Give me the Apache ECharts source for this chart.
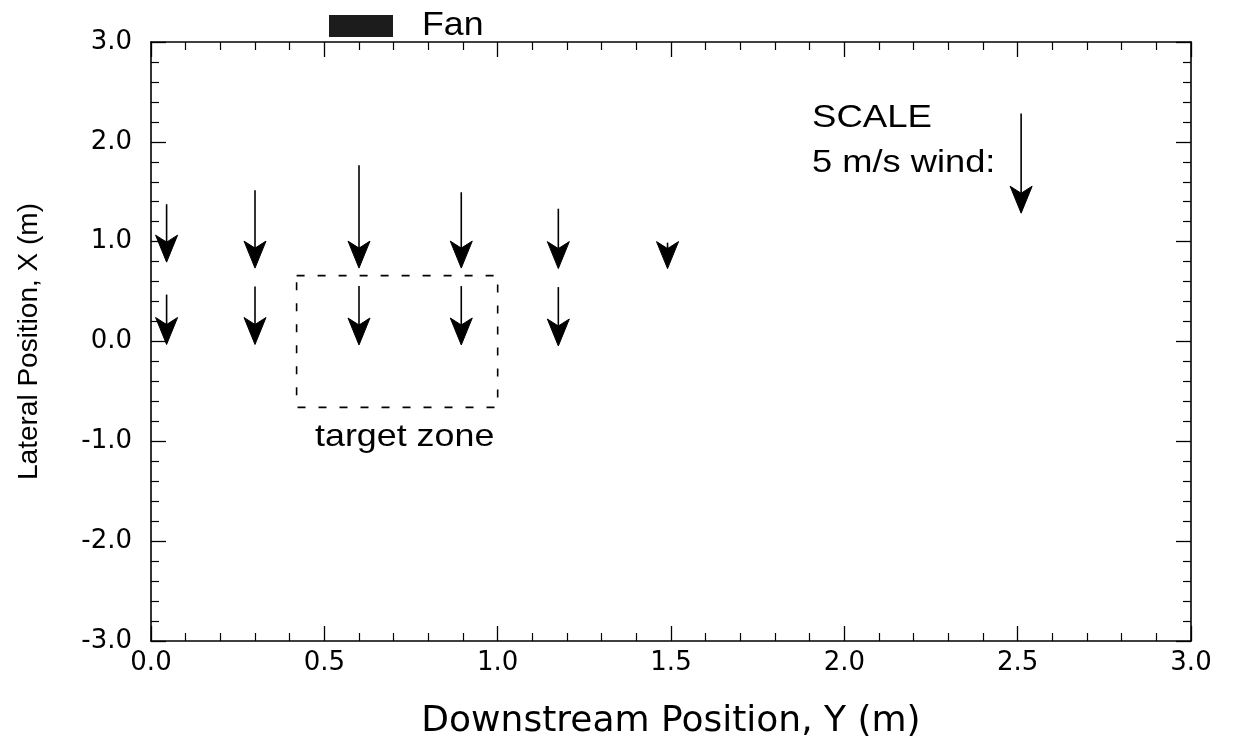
<!DOCTYPE html>
<html>
<head>
<meta charset="utf-8">
<script src="https://cdn.jsdelivr.net/npm/echarts@6/dist/echarts.min.js"></script>
<style>html,body{margin:0;padding:0;background:#fff;}#c{width:1241px;height:751px;}</style>
</head>
<body>
<div id="c"></div>
<script>
// Downstream positions Y (m) of the measurement columns
const topRowY = [0.045, 0.30, 0.60, 0.895, 1.175, 1.49];
// Lateral position X (m) where the arrow tips end
const topRowTipX = [0.795, 0.735, 0.735, 0.735, 0.73, 0.73];
// Wind speed (m/s), pointing in -X direction
const topRowSpeed = [2.9, 3.9, 5.15, 3.8, 3.0, 1.3];

const bottomRowY = [0.045, 0.30, 0.60, 0.895, 1.175];
const bottomRowTipX = [-0.03, -0.03, -0.035, -0.035, -0.045];
const bottomRowSpeed = [2.5, 2.9, 2.95, 2.95, 2.95];

// Scale reference arrow
const scaleArrowY = [2.51];
const scaleArrowTipX = [1.285];
const scaleArrowSpeed = [5.0];
const metresPerMs = 1 / 5; // 5 m/s drawn as 1.0 m

// Target zone rectangle corners (Y, X)
const targetZoneY = [0.42, 1.0, 1.0, 0.42, 0.42];
const targetZoneX = [0.66, 0.66, -0.66, -0.66, 0.66];

const xTicks = [0, 0.5, 1.0, 1.5, 2.0, 2.5, 3.0];
const yTicks = [-3, -2, -1, 0, 1, 2, 3];

function arrowData(ys, tips, speeds) {
  return ys.map((y, i) => [y, tips[i], speeds[i]]);
}
const arrows = arrowData(topRowY, topRowTipX, topRowSpeed)
  .concat(arrowData(bottomRowY, bottomRowTipX, bottomRowSpeed))
  .concat(arrowData(scaleArrowY, scaleArrowTipX, scaleArrowSpeed));

function renderArrow(params, api) {
  const y = api.value(0), tipX = api.value(1), sp = api.value(2);
  const tip = api.coord([y, tipX]);
  const tail = api.coord([y, tipX + sp * metresPerMs]);
  let dx = tip[0] - tail[0], dy = tip[1] - tail[1];
  const len = Math.sqrt(dx * dx + dy * dy) || 1;
  dx /= len; dy /= len;
  const nx = -dy, ny = dx;
  const L = 27, W = 11, notch = 20;
  const bx = tip[0] - dx * L, by = tip[1] - dy * L;
  const nPt = [tip[0] - dx * notch, tip[1] - dy * notch];
  return {
    type: 'group',
    children: [
      {
        type: 'line',
        shape: { x1: tail[0], y1: tail[1], x2: nPt[0], y2: nPt[1] + (len > notch ? 0 : 2) },
        style: { stroke: '#000', lineWidth: 1.6 }
      },
      {
        type: 'polygon',
        shape: { points: [tip, [bx + nx * W, by + ny * W], nPt, [bx - nx * W, by - ny * W]] },
        style: { fill: '#000', stroke: '#000', lineWidth: 1 }
      }
    ]
  };
}

const chart = echarts.init(document.getElementById('c'), null, { renderer: 'canvas' });
const font = '"Liberation Sans", Arial, sans-serif';
const tickFont = '"DejaVu Sans", sans-serif';
const axisCommon = {
  axisLine: { show: true, onZero: false, lineStyle: { color: '#000', width: 1.6 } },
  axisTick: { show: true, inside: true, length: 15, lineStyle: { color: '#000', width: 1.3 } },
  minorTick: { show: true, splitNumber: 5, length: 8, lineStyle: { color: '#000', width: 1.2 } },
  splitLine: { show: false }
};
const option = {
  backgroundColor: '#fff',
  animation: false,
  grid: { left: 151, top: 42, width: 1040, height: 599, containLabel: false },
  xAxis: [
    Object.assign({}, axisCommon, {
      type: 'value', min: 0, max: 3, interval: 0.5, position: 'bottom',
      name: 'Downstream Position, Y (m)', nameLocation: 'middle', nameGap: 63,
      nameTextStyle: { fontFamily: tickFont, fontSize: 36, color: '#000' },
      axisLabel: { fontFamily: tickFont, fontSize: 26, color: '#000', margin: 9,
        formatter: v => xTicks.indexOf(v) >= 0 ? v.toFixed(1) : '' }
    }),
    Object.assign({}, axisCommon, {
      type: 'value', min: 0, max: 3, interval: 0.5, position: 'top',
      axisLabel: { show: false }
    })
  ],
  yAxis: [
    Object.assign({}, axisCommon, {
      type: 'value', min: -3, max: 3, interval: 1, position: 'left',
      name: 'Lateral Position, X (m)', nameLocation: 'middle', nameGap: 108,
      nameTextStyle: { fontFamily: font, fontSize: 28, color: '#000' },
      axisLabel: { fontFamily: tickFont, fontSize: 26, color: '#000', margin: 19,
        padding: [0, 0, 8, 0],
        formatter: v => yTicks.indexOf(v) >= 0 ? v.toFixed(1) : '' }
    }),
    Object.assign({}, axisCommon, {
      type: 'value', min: -3, max: 3, interval: 1, position: 'right',
      axisLabel: { show: false }
    })
  ],
  series: [
    {
      type: 'line', name: 'target zone',
      data: targetZoneY.map((y, i) => [y, targetZoneX[i]]),
      symbol: 'none', silent: true,
      lineStyle: { color: '#000', width: 1.6, type: [8, 13] }
    },
    {
      type: 'custom', name: 'wind', renderItem: renderArrow,
      data: arrows, encode: { x: 0, y: 1 }, clip: false, silent: true
    }
  ],
  graphic: [
    { type: 'rect', left: 329, top: 15, shape: { width: 64, height: 22 },
      style: { fill: '#1c1c1c' } },
    { type: 'text', left: 422, top: 9, scaleX: 1.05,
      style: { text: 'Fan', font: '34px "Liberation Sans", Arial, sans-serif', fill: '#000' } },
    { type: 'text', left: 812, top: 103, scaleX: 1.18,
      style: { text: 'SCALE', font: '31px "Liberation Sans", Arial, sans-serif', fill: '#000' } },
    { type: 'text', left: 812, top: 148, scaleX: 1.17,
      style: { text: '5 m/s wind:', font: '31px "Liberation Sans", Arial, sans-serif', fill: '#000' } },
    { type: 'text', left: 315, top: 421, scaleX: 1.12,
      style: { text: 'target zone', font: '32px "Liberation Sans", Arial, sans-serif', fill: '#000' } }
  ]
};
chart.setOption(option);
</script>
</body>
</html>
